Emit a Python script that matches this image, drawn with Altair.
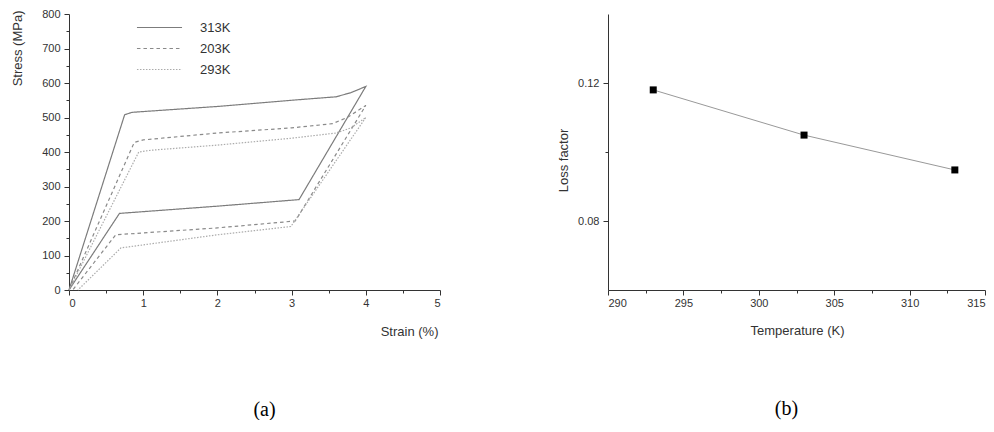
import altair as alt
import pandas as pd

FONT = "Liberation Sans"

# ---------------- data: panel (a) stress-strain loops ----------------
series_names = ["313K", "203K", "293K"]
series_colors = ["#7c7c7c", "#8a8a8a", "#ababab"]
series_dashes = [[1, 0], [3.5, 3], [1.5, 1.5]]

strain_313 = [0, 0.75, 0.85, 2.0, 3.0, 3.6, 3.8, 4.0, 3.1, 2.0, 0.68, 0.0]
stress_313 = [0, 508, 515, 532, 550, 560, 572, 590, 262, 243, 222, 0]

strain_203 = [0, 0.88, 1.0, 2.0, 3.0, 3.55, 3.75, 4.0, 3.05, 2.0, 0.63, 0.05]
stress_203 = [0, 428, 435, 455, 470, 482, 500, 535, 200, 180, 160, 0]

strain_293 = [0, 0.94, 1.1, 2.0, 3.0, 3.6, 3.8, 4.0, 2.99, 2.0, 0.70, 0.12]
stress_293 = [0, 400, 405, 420, 440, 455, 470, 500, 184, 160, 122, 0]

# ---------------- data: panel (b) loss factor ----------------
temperature = [293, 303, 313]
loss_factor = [0.118, 0.1049, 0.0948]

# tick values
strain_ticks = [0, 0.5, 1, 1.5, 2, 2.5, 3, 3.5, 4, 4.5, 5]
stress_ticks = [0, 50, 100, 150, 200, 250, 300, 350, 400, 450, 500, 550, 600, 650, 700, 750, 800]
temp_ticks = [290, 292.5, 295, 297.5, 300, 302.5, 305, 307.5, 310, 312.5, 315]
loss_ticks = [0.08, 0.10, 0.12]

rows = []
for name, xs, ys in zip(series_names, [strain_313, strain_203, strain_293],
                        [stress_313, stress_203, stress_293]):
    for i, (x, y) in enumerate(zip(xs, ys)):
        rows.append({"series": name, "strain": x, "stress": y, "idx": i})
df_a = pd.DataFrame(rows)
df_b = pd.DataFrame({"temperature": temperature, "loss": loss_factor})

axis_style = dict(
    grid=False, labelFont=FONT, labelFontSize=11, labelColor="#333",
    domainColor="#333", tickColor="#333", domainWidth=1, tickWidth=1,
    titleFont=FONT, titleFontSize=13, titleColor="#333", titleFontWeight="normal",
)

legend_spec = alt.Legend(
    title=None, orient="none", legendX=84, legendY=7,
    symbolType="M-4,0H4", symbolSize=127, symbolStrokeWidth=1.2,
    labelFont=FONT, labelFontSize=13, labelColor="#333", labelOffset=34,
    rowPadding=7, padding=0,
)

left = alt.Chart(df_a).mark_line(strokeWidth=1.2).encode(
    x=alt.X("strain:Q", scale=alt.Scale(domain=[0, 5], nice=False),
            axis=alt.Axis(values=strain_ticks,
                          labelExpr="datum.value % 1 === 0 ? format(datum.value, 'd') : ''",
                          tickSize={"condition": {"test": "datum.value % 1 === 0", "value": 5}, "value": 3},
                          labelPadding=2, title="Strain (%)", titleX=369, titleY=41,
                          titleAlign="right", titleBaseline="middle", **axis_style)),
    y=alt.Y("stress:Q", scale=alt.Scale(domain=[0, 800], nice=False),
            axis=alt.Axis(values=stress_ticks,
                          labelExpr="datum.value % 100 === 0 ? format(datum.value, 'd') : ''",
                          tickSize={"condition": {"test": "datum.value % 100 === 0", "value": 5}, "value": 3},
                          labelPadding=4, title="Stress (MPa)", titleX=-52, titleY=-4,
                          titleAngle=-90, titleAlign="right", titleBaseline="middle", **axis_style)),
    color=alt.Color("series:N", scale=alt.Scale(domain=series_names, range=series_colors), legend=legend_spec),
    strokeDash=alt.StrokeDash("series:N", scale=alt.Scale(domain=series_names, range=series_dashes), legend=legend_spec),
    detail="series:N",
    order="idx:Q",
).properties(
    width=371, height=276,
    title=alt.TitleParams("(a)", orient="bottom", font="Liberation Serif", fontSize=20,
                          fontWeight="normal", color="black", frame="group", anchor="middle",
                          dx=10, offset=62),
)

base_b = alt.Chart(df_b).encode(
    x=alt.X("temperature:Q", scale=alt.Scale(domain=[290, 315], nice=False),
            axis=alt.Axis(values=temp_ticks,
                          labelExpr="datum.value % 5 === 0 ? format(datum.value, 'd') : ''",
                          tickSize={"condition": {"test": "datum.value % 5 === 0", "value": 5}, "value": 3},
                          labelPadding=2, title="Temperature (K)", titleX=189, titleY=40,
                          titleAlign="center", titleBaseline="middle", **axis_style)),
    y=alt.Y("loss:Q", scale=alt.Scale(domain=[0.06, 0.14], nice=False, zero=False),
            axis=alt.Axis(values=loss_ticks,
                          labelExpr="abs(datum.value - 0.1) < 1e-6 ? '' : format(datum.value, '.2f')",
                          tickSize={"condition": {"test": "abs(datum.value - 0.1) < 1e-6", "value": 3}, "value": 5},
                          labelPadding=4, title="Loss factor", titleX=-45, titleY=146,
                          titleAngle=-90, titleAlign="center", titleBaseline="middle", **axis_style)),
)
right = alt.layer(
    base_b.mark_line(color="#999999", strokeWidth=1),
    base_b.mark_square(color="black", size=49, opacity=1),
).properties(
    width=377, height=276,
    title=alt.TitleParams("(b)", orient="bottom", font="Liberation Serif", fontSize=20,
                          fontWeight="normal", color="black", frame="group", anchor="middle",
                          dx=-10, offset=62),
)

chart = alt.hconcat(left, right, spacing=168, bounds="flush").properties(
    padding={"left": 10, "top": 8, "right": 0, "bottom": 0},
    background="white",
).configure_view(stroke=None)

chart.save("out.html", embed_options={"renderer": "svg", "actions": False})
